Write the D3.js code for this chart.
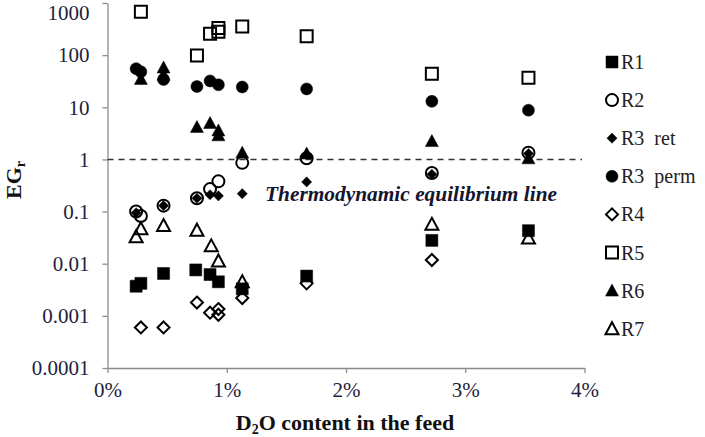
<!DOCTYPE html>
<head>
  <meta charset="utf-8">
  <script src="https://d3js.org/d3.v7.min.js"></script>
  <style>
  body { margin: 0; background: #fff; }
  .domain, .tick line { stroke: #8c8c8c; stroke-width: 1.3px; }
</style>
</head>
<body>
<svg width="705" height="437"></svg>

<script type="text/javascript">
// x = D2O content in the feed (%), y = EGr (log scale)
var r1 = [[0.24,0.0037],[0.28,0.0042],[0.47,0.0065],[0.74,0.0076],[0.86,0.0062],[0.93,0.0045],[1.13,0.0033],[1.67,0.0058],[2.72,0.028],[3.53,0.043]];
var r2 = [[0.24,0.10],[0.28,0.082],[0.47,0.13],[0.75,0.18],[0.86,0.27],[0.93,0.38],[1.13,0.86],[1.67,1.05],[2.72,0.55],[3.53,1.35]];
var r3ret = [[0.24,0.095],[0.47,0.13],[0.75,0.18],[0.86,0.21],[0.93,0.20],[1.13,0.22],[1.67,0.37],[2.72,0.52],[3.53,1.3]];
var r3perm = [[0.24,55],[0.28,48],[0.47,34],[0.75,25],[0.86,32],[0.93,27],[1.13,24.5],[1.67,22.5],[2.72,13],[3.53,8.8]];
var r4 = [[0.28,0.0006],[0.47,0.0006],[0.75,0.0018],[0.86,0.00115],[0.93,0.00135],[0.93,0.00105],[1.13,0.0022],[1.67,0.0042],[2.72,0.0118]];
var r5 = [[0.28,680],[0.75,98],[0.86,258],[0.93,330],[0.93,280],[1.13,355],[1.67,230],[2.72,44],[3.53,37]];
var r6 = [[0.28,35],[0.47,58],[0.47,42],[0.75,4.2],[0.86,5.0],[0.93,3.6],[0.93,2.9],[1.13,1.35],[1.67,1.3],[2.72,2.25],[3.53,1.05]];
var r7 = [[0.24,0.033],[0.28,0.047],[0.47,0.054],[0.75,0.044],[0.87,0.022],[0.93,0.0113],[1.13,0.0045],[2.72,0.057],[3.53,0.031]];

var seriesNames = ["R1", "R2", "R3  ret", "R3  perm", "R4", "R5", "R6", "R7"];
var seriesData = [r1, r2, r3ret, r3perm, r4, r5, r6, r7];
var seriesShape = ["square", "circle", "diamond", "circle", "diamond", "square", "triangle", "triangle"];
var seriesFilled = [true, false, true, true, false, false, true, false];

var xTicks = [0, 1, 2, 3, 4];
var yTicks = [0.0001, 0.001, 0.01, 0.1, 1, 10, 100, 1000];
var equilibrium = 1;
var serif = '"Liberation Serif", "Times New Roman", Times, serif';

var svg = d3.select("svg");

var x = d3.scaleLinear().domain([0, 4]).range([107.5, 584.5]);
var y = d3.scaleLog().domain([0.0001, 1000]).range([368, 3]);

function styleTicks(g) {
  g.attr("font-family", serif);
  g.selectAll(".tick text")
    .style("font-family", serif)
    .style("font-size", "21px")
    .attr("fill", "#1e1e3c");
}

// axes
svg.append("g")
    .attr("transform", "translate(0,368)")
    .call(d3.axisBottom(x).tickValues(xTicks).tickSize(5).tickSizeOuter(0)
      .tickFormat(function(d) { return d + "%"; }))
    .call(styleTicks)
    .call(function(g) { g.selectAll(".tick text").attr("y", 14); });

svg.append("g")
    .attr("transform", "translate(107.5,0)")
    .call(d3.axisLeft(y).tickValues(yTicks).tickSize(5).tickSizeOuter(0)
      .tickFormat(function(d) { return d >= 1 ? d3.format("d")(d) : String(+d.toPrecision(1)); }))
    .call(styleTicks)
    .call(function(g) {
      g.selectAll(".tick text").attr("x", -18);
      // top label sits right at the edge; nudge it down so it stays visible
      g.selectAll(".tick text").filter(function(d) { return d == 1000; }).attr("dy", "0.8em");
    });

// thermodynamic equilibrium line
svg.append("line")
    .attr("x1", x(0)).attr("x2", 582)
    .attr("y1", y(equilibrium)).attr("y2", y(equilibrium))
    .attr("stroke", "#333").attr("stroke-width", 1.6)
    .attr("stroke-dasharray", "6,5");

svg.append("text")
    .attr("x", 265).attr("y", 201)
    .attr("textLength", 292).attr("lengthAdjust", "spacingAndGlyphs")
    .style("font-family", serif)
    .style("font-size", "20px").style("font-weight", "bold").style("font-style", "italic")
    .attr("fill", "#151530")
    .text("Thermodynamic equilibrium line");

// marker shapes
function shapePath(type) {
  if (type == "square") return "M-6,-6H6V6H-6Z";
  if (type == "diamond") return "M0,-6L6,0L0,6L-6,0Z";
  if (type == "triangle") return "M0,-6.5L6.5,5.5H-6.5Z";
  return "M6,0A6,6 0 1,1 -6,0A6,6 0 1,1 6,0Z";
}
function drawMarker(sel, i) {
  var filled = seriesFilled[i];
  var shape = seriesShape[i];
  sel.append("path")
    .attr("d", shapePath(shape))
    .attr("transform", function(d) {
      return "translate(" + x(d[0]) + "," + y(d[1]) + ")" + (filled && shape == "diamond" ? " scale(0.85)" : "");
    })
    .attr("fill", filled ? "#000" : "none")
    .attr("stroke", "#000")
    .attr("stroke-width", filled ? 0.5 : 2);
}

seriesData.forEach(function(data, i) {
  var g = svg.append("g").selectAll("g").data(data).enter();
  drawMarker(g, i);
});

// legend
seriesNames.forEach(function(name, i) {
  var ly = 62 + i * 38.1;
  var lg = svg.append("g");
  drawMarker(lg.selectAll("g").data([[0, 1]]).enter(), i);
  lg.select("path").attr("transform", "translate(612," + ly + ")" + (seriesFilled[i] && seriesShape[i] == "diamond" ? " scale(0.85)" : ""));
  lg.append("text")
    .attr("x", 621).attr("y", ly + 7)
    .style("font-family", serif)
    .style("font-size", "20px").style("white-space", "pre")
    .attr("fill", "#222")
    .text(name);
});

// axis titles
svg.append("text")
    .attr("x", 345).attr("y", 430)
    .attr("text-anchor", "middle")
    .style("font-family", serif)
    .style("font-size", "22px").style("font-weight", "bold")
    .attr("fill", "#111")
    .html('D<tspan dy="4" style="font-size:14px">2</tspan><tspan dy="-4">O content in the feed</tspan>');

svg.append("text")
    .attr("transform", "translate(21,180) rotate(-90)")
    .attr("text-anchor", "middle")
    .style("font-family", serif)
    .style("font-size", "22px").style("font-weight", "bold")
    .attr("fill", "#111")
    .html('EG<tspan dy="4" style="font-size:14px">r</tspan>');
</script>

</body>
</html>
